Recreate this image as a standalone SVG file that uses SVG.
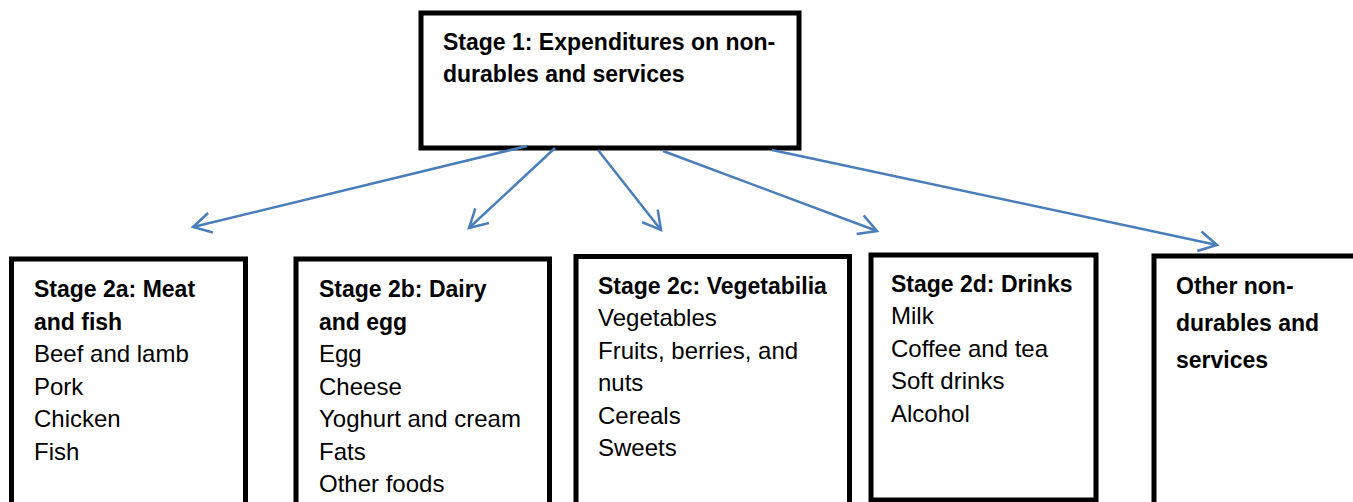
<svg xmlns="http://www.w3.org/2000/svg" width="1353" height="502" viewBox="0 0 1353 502">
<defs>
<style>
.box{fill:#fff;stroke:#000;stroke-width:5}
.b{font-family:"Liberation Sans",Arial,sans-serif;font-weight:bold;font-size:23px;fill:#000}
.r{font-family:"Liberation Sans",Arial,sans-serif;font-size:24px;fill:#000}
.conn line{stroke:#4a7ebb;stroke-width:2.5;fill:none}
</style>
<marker id="arr" viewBox="-22 -12 26 24" refX="0" refY="0" markerWidth="26" markerHeight="24" markerUnits="userSpaceOnUse" orient="auto">
<path d="M-18,-10 L0,0 L-18,10" fill="none" stroke="#4a7ebb" stroke-width="2.5"/>
</marker>
</defs>
<rect width="1353" height="502" fill="#fff"/>
<g id="stage1">
<rect class="box" x="421" y="13" width="378" height="135"/>
<text class="b" x="443" y="50">Stage 1: Expenditures on non-</text>
<text class="b" x="443" y="82">durables and services</text>
</g>
<g id="stage2a">
<rect class="box" x="11.5" y="259" width="234" height="270"/>
<text class="b" x="34" y="297">Stage 2a: Meat</text>
<text class="b" x="34" y="329.5">and fish</text>
<text class="r" x="34" y="362">Beef and lamb</text>
<text class="r" x="34" y="394.5">Pork</text>
<text class="r" x="34" y="427">Chicken</text>
<text class="r" x="34" y="459.5">Fish</text>
</g>
<g id="stage2b">
<rect class="box" x="296" y="259" width="253.5" height="270"/>
<text class="b" x="319" y="297">Stage 2b: Dairy</text>
<text class="b" x="319" y="329.5">and egg</text>
<text class="r" x="319" y="362">Egg</text>
<text class="r" x="319" y="394.5">Cheese</text>
<text class="r" x="319" y="427">Yoghurt and cream</text>
<text class="r" x="319" y="459.5">Fats</text>
<text class="r" x="319" y="492">Other foods</text>
</g>
<g id="stage2c">
<rect class="box" x="576" y="256.5" width="273.5" height="248"/>
<text class="b" x="598" y="294">Stage 2c: Vegetabilia</text>
<text class="r" x="598" y="326">Vegetables</text>
<text class="r" x="598" y="358.5">Fruits, berries, and</text>
<text class="r" x="598" y="391">nuts</text>
<text class="r" x="598" y="423.5">Cereals</text>
<text class="r" x="598" y="456">Sweets</text>
</g>
<g id="stage2d">
<rect class="box" x="871" y="255" width="225" height="245"/>
<text class="b" x="891" y="291.5">Stage 2d: Drinks</text>
<text class="r" x="891" y="324">Milk</text>
<text class="r" x="891" y="356.5">Coffee and tea</text>
<text class="r" x="891" y="389">Soft drinks</text>
<text class="r" x="891" y="421.5">Alcohol</text>
</g>
<g id="other">
<rect class="box" x="1154" y="256" width="230" height="270"/>
<text class="b" x="1176" y="294">Other non-</text>
<text class="b" x="1176" y="331">durables and</text>
<text class="b" x="1176" y="368">services</text>
</g>
<g id="connectors" class="conn">
<line x1="527" y1="146" x2="193" y2="227" marker-end="url(#arr)"/>
<line x1="555" y1="148" x2="469" y2="228" marker-end="url(#arr)"/>
<line x1="598" y1="150" x2="661" y2="230" marker-end="url(#arr)"/>
<line x1="663" y1="151" x2="877" y2="231" marker-end="url(#arr)"/>
<line x1="772" y1="150" x2="1217" y2="245" marker-end="url(#arr)"/>
</g>
</svg>
